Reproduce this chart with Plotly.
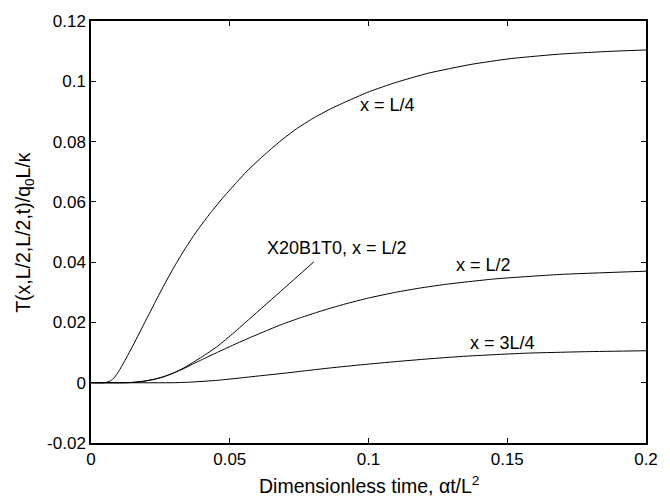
import plotly.graph_objects as go

# Dimensionless time samples and temperature responses
t_quarter = [0.0, 0.0049, 0.007, 0.0085, 0.010, 0.012, 0.0155, 0.0191, 0.0226, 0.0261,
             0.0297, 0.0332, 0.0367, 0.0403, 0.0438, 0.0473, 0.052, 0.0562, 0.062,
             0.068, 0.074, 0.080, 0.0862, 0.093, 0.1004, 0.1098, 0.1216, 0.1369,
             0.151, 0.1687, 0.1863, 0.2]
T_quarter = [0.0, 0.0, 0.0006, 0.0018, 0.0038, 0.007, 0.013, 0.0195, 0.0258, 0.032,
             0.038, 0.0434, 0.0484, 0.053, 0.0572, 0.0611, 0.066, 0.0702, 0.0752,
             0.08, 0.0842, 0.0877, 0.0908, 0.0937, 0.0966, 0.0996, 0.1027, 0.1056,
             0.1075, 0.109, 0.1099, 0.1104]

t_half = [0.0, 0.012, 0.015, 0.019, 0.0226, 0.0262, 0.0297, 0.0332, 0.0367, 0.041,
          0.0456, 0.0515, 0.0574, 0.0633, 0.0692, 0.075, 0.0809, 0.0862, 0.0915,
          0.1, 0.1098, 0.1185, 0.1275, 0.1451, 0.1687, 0.2]
T_half = [0.0, 0.0, 0.0001, 0.0005, 0.0011, 0.002, 0.0032, 0.0046, 0.0062, 0.0081,
          0.0101, 0.0126, 0.015, 0.0173, 0.0195, 0.0214, 0.0232, 0.0247, 0.0261,
          0.0281, 0.03, 0.0314, 0.0326, 0.0344, 0.0359, 0.037]

t_x20 = [0.0, 0.012, 0.015, 0.019, 0.0226, 0.0262, 0.0297, 0.0332, 0.0367, 0.041,
         0.0456, 0.0515, 0.0574, 0.0692, 0.0803]
T_x20 = [0.0, 0.0, 0.0001, 0.0005, 0.0011, 0.002, 0.0032, 0.0048, 0.0067, 0.0092,
         0.0121, 0.0166, 0.0214, 0.031, 0.0401]

t_three = [0.0, 0.03, 0.036, 0.0456, 0.054, 0.062, 0.0692, 0.0776, 0.0862, 0.098,
           0.1098, 0.1215, 0.1333, 0.1451, 0.1569, 0.1785, 0.2]
T_three = [0.0, 0.0, 0.0002, 0.0008, 0.0016, 0.0024, 0.0031, 0.004, 0.0049, 0.006,
           0.007, 0.0079, 0.0087, 0.0093, 0.0098, 0.0103, 0.0106]

x_tickvals = [0, 0.05, 0.1, 0.15, 0.2]
x_ticktext = ["0", "0.05", "0.1", "0.15", "0.2"]
y_tickvals = [-0.02, 0, 0.02, 0.04, 0.06, 0.08, 0.1, 0.12]
y_ticktext = ["-0.02", "0", "0.02", "0.04", "0.06", "0.08", "0.1", "0.12"]

# Curve labels: text and anchor position in data units
label_text = ["x = L/4", "X20B1T0, x = L/2", "x = L/2", "x = 3L/4"]
label_t = [0.1067, 0.0887, 0.1413, 0.1482]
label_T = [0.092, 0.0446, 0.039, 0.0133]

FONT = "Liberation Sans, Arial, Helvetica, sans-serif"

fig = go.Figure()
for tt, TT in [(t_quarter, T_quarter), (t_x20, T_x20), (t_half, T_half), (t_three, T_three)]:
    fig.add_trace(go.Scatter(x=tt, y=TT, mode="lines",
                             line=dict(color="black", width=1, shape="spline", smoothing=0.5),
                             showlegend=False, hoverinfo="skip"))

for txt, xv, yv in zip(label_text, label_t, label_T):
    fig.add_annotation(x=xv, y=yv, text=txt, showarrow=False,
                       font=dict(family=FONT, size=18, color="black"),
                       xanchor="center", yanchor="middle")

# Axis titles
fig.add_annotation(xref="paper", yref="paper", x=0.5, y=-0.099,
                   text="Dimensionless time, αt/L<sup>2</sup>", showarrow=False,
                   font=dict(family=FONT, size=19.5, color="black"),
                   xanchor="center", yanchor="middle")
fig.add_annotation(xref="paper", yref="paper", x=-0.12, y=0.499,
                   text="T(x,L/2,L/2,t)/q<sub>0</sub>L/κ", showarrow=False, textangle=-90,
                   font=dict(family=FONT, size=19.5, color="black"),
                   xanchor="center", yanchor="middle")

axis_common = dict(showline=True, linecolor="black", linewidth=1.5, mirror="ticks",
                   ticks="inside", ticklen=5, tickwidth=1, tickcolor="black",
                   showgrid=False, zeroline=False,
                   tickfont=dict(family=FONT, size=17, color="black"))

fig.update_xaxes(range=[0, 0.2], tickvals=x_tickvals, ticktext=x_ticktext, **axis_common)
fig.update_yaxes(range=[-0.02, 0.12], tickvals=y_tickvals, ticktext=y_ticktext, **axis_common)

fig.update_layout(width=670, height=499, margin=dict(l=91, r=13, t=18, b=56),
                  plot_bgcolor="white", paper_bgcolor="white")

fig.write_html("out.html")
